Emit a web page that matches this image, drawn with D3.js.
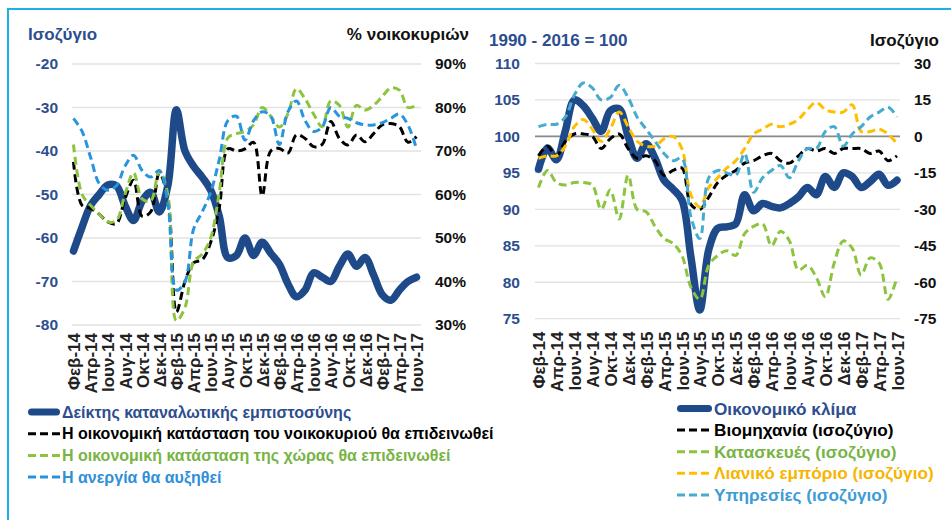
<!DOCTYPE html>
<html>
<head>
<meta charset="utf-8">
<script src="https://cdn.jsdelivr.net/npm/d3@7"></script>
<style>
  body { margin: 0; background: #fff; }
  svg text { font-family: "Liberation Sans", Arial, sans-serif; font-weight: bold; }
</style>
</head>
<body>
<svg id="chart" width="951" height="520"></svg>
<script>
/*** Data ***/
const months = [
  "Φεβ-14","Μαρ-14","Απρ-14","Μαϊ-14","Ιουν-14","Ιουλ-14","Αυγ-14","Σεπ-14","Οκτ-14","Νοε-14","Δεκ-14",
  "Ιαν-15","Φεβ-15","Μαρ-15","Απρ-15","Μαϊ-15","Ιουν-15","Ιουλ-15","Αυγ-15","Σεπ-15","Οκτ-15","Νοε-15","Δεκ-15",
  "Ιαν-16","Φεβ-16","Μαρ-16","Απρ-16","Μαϊ-16","Ιουν-16","Ιουλ-16","Αυγ-16","Σεπ-16","Οκτ-16","Νοε-16","Δεκ-16",
  "Ιαν-17","Φεβ-17","Μαρ-17","Απρ-17","Μαϊ-17","Ιουν-17"
];
// every second month is labelled
const tickMonths = ["Φεβ-14","Απρ-14","Ιουν-14","Αυγ-14","Οκτ-14","Δεκ-14","Φεβ-15","Απρ-15","Ιουν-15",
  "Αυγ-15","Οκτ-15","Δεκ-15","Φεβ-16","Απρ-16","Ιουν-16","Αυγ-16","Οκτ-16","Δεκ-16","Φεβ-17","Απρ-17","Ιουν-17"];

// Left panel: consumer confidence (balance, left axis) and survey answers (% households, right axis)
const consumerConfidence = [-63, -57.5, -52.5, -50, -47.8, -48, -52.5, -56, -51.5, -49.5, -54, -48, -30.5, -40, -43.5,
  -46, -49, -55, -64.5, -64, -60, -64, -61, -63.5, -66, -70.5, -73.5, -72, -68, -69, -70, -66.5, -63.7, -66.5, -64.5,
  -68.5, -73, -74.3, -72, -70, -69];
const householdWorse = [67.5, 57.5, 56.8, 55.5, 53.7, 53.3, 59, 63.3, 55, 56, 65, 59, 33, 40, 44.3, 45, 49, 57, 70.5,
  70, 70.5, 72, 59.7, 70, 70.6, 69.5, 73.7, 72.9, 71, 71.5, 76.8, 72.9, 71.4, 73.7, 72.1, 74, 76, 76.3, 75.6, 72, 73.3];
const countryWorse = [71.5, 60, 57.5, 55.5, 53.7, 54, 60, 65, 59, 58.5, 65.5, 60, 31, 34, 44.5, 46.3, 50, 60.5, 73,
  74, 74.5, 76, 80, 78, 75.5, 78.5, 84.3, 82, 78.5, 75.6, 81.5, 80.5, 75.5, 80.5, 79.4, 80.5, 82.5, 84.5, 84, 80, 80.5];
const unemploymentUp = [77.5, 74.5, 68.5, 62.5, 61, 62, 66.5, 69, 65.5, 64, 65.5, 58, 38, 40, 52, 56, 60.5, 68, 77,
  78, 72.5, 77, 79, 78, 71.5, 79, 81.5, 77, 74.5, 75.5, 80, 78, 77.5, 76.5, 76, 76, 76.5, 77.5, 78.5, 76, 70.5];

// Right panel: economic sentiment (index, left axis) and sector balances (right axis)
const economicSentiment = [95.5, 98.4, 96.8, 100.8, 105, 104.2, 102.5, 100.7, 103.5, 103.8, 100, 97, 99, 97, 94,
  92.8, 91.3, 83.5, 76.2, 84.5, 87.4, 87.6, 88, 92, 89.8, 90.8, 90.4, 90.2, 90.8, 91.7, 93, 92, 94.5, 93, 95, 94.5,
  93, 93.8, 94.8, 93.3, 94];
const industry = [-8, -4, -8, -2, 1, 1, 0, -5, -1, 1, -5, -9, -8, -10, -16, -14, -13, -28, -30, -25, -19, -16, -14,
  -11, -10, -8, -7, -10, -11, -8, -5, -6, -5, -7, -5, -5, -5, -7, -6, -10, -8];
const construction = [-21, -14, -19, -20, -19, -19, -20, -30, -22, -34, -16, -30, -31, -37, -42, -44, -49, -62, -67,
  -53, -49, -47, -49, -40, -37, -36, -45, -39, -43, -55, -53, -58, -66, -52, -43, -46, -57, -50, -52, -67, -58];
const retail = [-9, -8, -8, -4, 4, 7, 3, -2, 3, 10, 4, -2, -4, -4, -1, 0, -5, -24, -29, -21, -17, -13, -10, -5, 1,
  3, 5, 4, 5, 7, 11, 14, 11, 10, 10, 13, 2, 2, 3, 1, -3];
const services = [4, 5, 5, 8, 17, 22, 20, 15, 16, 21, 16, 8, 3, -2, -7, -10, -9, -33, -42, -17, -14, -15, -16, -7,
  -23, -17, -14, -12, -17, -10, -5, -5, 2, 4, -4, 1, 4, 8, 10, 12, 8];

const leftTicksA = [-20, -30, -40, -50, -60, -70, -80];
const rightTicksA = [90, 80, 70, 60, 50, 40, 30];
const leftTicksB = [110, 105, 100, 95, 90, 85, 80, 75];
const rightTicksB = [30, 15, 0, -15, -30, -45, -60, -75];

const legendA = ["Δείκτης καταναλωτικής εμπιστοσύνης", "Η οικονομική κατάσταση του νοικοκυριού θα επιδεινωθεί",
  "Η οικονομική κατάσταση της χώρας θα επιδεινωθεί", "Η ανεργία θα αυξηθεί"];
const legendB = ["Οικονομικό κλίμα", "Βιομηχανία (ισοζύγιο)", "Κατασκευές (ισοζύγιο)",
  "Λιανικό εμπόριο (ισοζύγιο)", "Υπηρεσίες (ισοζύγιο)"];

/*** Styles ***/
const NAVY = "#1f4a8a", NAVY_TXT = "#2d4e8e";
const GREEN = "#8cc43f", BLUE = "#2795dd", ORANGE = "#ffbf00", AQUA = "#45abcf";

const svg = d3.select("#chart");

// blue frame round the figure
svg.append("path")
    .attr("d", "M8,520V9H951")
    .attr("fill", "none")
    .attr("stroke", "#1cb0e6")
    .attr("stroke-width", 2);

/*** Panel drawing ***/
function drawPanel(p) {
  let g = svg.append("g");
  let x = d3.scalePoint().domain(months).range(p.xRange);
  let yL = d3.scaleLinear().domain(p.leftDomain).range([p.yBottom, p.yTop]);
  let yR = d3.scaleLinear().domain(p.rightDomain).range([p.yBottom, p.yTop]);

  // Gridlines
  g.selectAll(".grid")
      .data(p.leftTicks).enter()
      .append("line")
          .attr("x1", p.gridX[0]).attr("x2", p.gridX[1])
          .attr("y1", d => yL(d)).attr("y2", d => yL(d))
          .attr("stroke", "#e2e2e2")
          .attr("stroke-width", 1.3);
  if (p.baseLine !== undefined) {
    g.append("line")
        .attr("x1", p.gridX[0]).attr("x2", p.gridX[1])
        .attr("y1", yL(p.baseLine)).attr("y2", yL(p.baseLine))
        .attr("stroke", "#8a8a8a")
        .attr("stroke-width", 1.6);
  }

  // Axes (plain hyphen for negatives, as in the original)
  let axL = g.append("g")
      .attr("transform", "translate(" + p.leftAxisX + ",0)")
      .call(d3.axisLeft(yL).tickValues(p.leftTicks).tickSize(0).tickPadding(0).tickFormat(d => String(d)));
  axL.select(".domain").remove();
  axL.selectAll("text").attr("fill", NAVY_TXT).style("font-size", "15.5px")
      .attr("font-family", null);

  let axR = g.append("g")
      .attr("transform", "translate(" + p.rightAxisX + ",0)")
      .call(d3.axisRight(yR).tickValues(p.rightTicks).tickSize(0).tickPadding(0).tickFormat(p.rightFormat));
  axR.select(".domain").remove();
  axR.selectAll("text").attr("fill", "#111").style("font-size", "15.5px")
      .attr("font-family", null);

  let axB = g.append("g")
      .attr("transform", "translate(0," + p.labelTop + ")")
      .call(d3.axisBottom(x).tickValues(tickMonths).tickSize(0));
  axB.select(".domain").remove();
  axB.selectAll("text")
      .attr("transform", "rotate(-90)")
      .attr("x", 0).attr("y", 0).attr("dy", "0.36em")
      .attr("font-family", null)
      .style("text-anchor", "end")
      .style("font-size", "17px")
      .attr("fill", "#222");

  // Axis titles
  g.append("text")
      .attr("x", p.titleL[0]).attr("y", p.titleL[1])
      .attr("fill", NAVY_TXT).style("font-size", "17px")
      .text(p.titleLeft);
  g.append("text")
      .attr("x", p.titleR[0]).attr("y", p.titleR[1])
      .attr("fill", "#111").style("font-size", "17px")
      .style("text-anchor", "end")
      .text(p.titleRight);

  // Series: dashed ones on the secondary axis, drawn over the thick one
  let lineL = d3.line().x((d, i) => x(months[i])).y(d => yL(d)).curve(d3.curveCatmullRom.alpha(0.5));
  let lineR = d3.line().x((d, i) => x(months[i])).y(d => yR(d)).curve(d3.curveCatmullRom.alpha(0.5));

  g.append("path")
      .attr("d", lineL(p.main))
      .attr("fill", "none")
      .attr("stroke", NAVY)
      .attr("stroke-width", 7.5)
      .attr("stroke-linecap", "round")
      .attr("stroke-linejoin", "round");
  p.dashed.forEach(s => {
    g.append("path")
        .attr("d", lineR(s.values))
        .attr("fill", "none")
        .attr("stroke", s.color)
        .attr("stroke-width", 3)
        .attr("stroke-dasharray", "8,4.5");
  });

  // Legend
  let leg = g.append("g");
  p.legend.forEach((name, i) => {
    let y = p.legendY + i * p.legendStep;
    let item = i == 0 ? {color: NAVY, text: NAVY_TXT} : p.dashed[i - 1];
    let sw = leg.append("line")
        .attr("x1", p.legendX[0]).attr("x2", p.legendX[1])
        .attr("y1", y).attr("y2", y)
        .attr("stroke", item.color);
    if (i == 0) {
      sw.attr("stroke-width", 7).attr("stroke-linecap", "round")
        .attr("x1", p.legendX[0] + 3.5).attr("x2", p.legendX[1] - 3.5);
    } else {
      sw.attr("stroke-width", 3).attr("stroke-dasharray", "8,4");
    }
    leg.append("text")
        .attr("x", p.legendX[1] + 2).attr("y", y).attr("dy", "0.36em")
        .attr("fill", item.text)
        .style("font-size", p.legendFont)
        .text(name);
  });
}

drawPanel({
  xRange: [73.5, 416.5], gridX: [72, 421],
  yTop: 64, yBottom: 325, labelTop: 333,
  leftDomain: [-80, -20], rightDomain: [30, 90],
  leftTicks: leftTicksA, rightTicks: rightTicksA, rightFormat: d => d + "%",
  leftAxisX: 58, rightAxisX: 435,
  titleLeft: "Ισοζύγιο", titleRight: "% νοικοκυριών", titleL: [28, 40], titleR: [469, 40],
  main: consumerConfidence,
  dashed: [
    {values: householdWorse, color: "#000", text: "#000"},
    {values: countryWorse, color: GREEN, text: "#78b444"},
    {values: unemploymentUp, color: BLUE, text: "#2f8fd8"}
  ],
  legend: legendA, legendX: [28, 60], legendY: 412, legendStep: 21.7, legendFont: "16px"
});

drawPanel({
  xRange: [538.5, 897], gridX: [535, 900],
  yTop: 63.5, yBottom: 318.7, labelTop: 331.5,
  leftDomain: [75, 110], rightDomain: [-75, 30], baseLine: 100,
  leftTicks: leftTicksB, rightTicks: rightTicksB, rightFormat: d => String(d),
  leftAxisX: 520, rightAxisX: 914,
  titleLeft: "1990 - 2016 = 100", titleRight: "Ισοζύγιο", titleL: [489, 46], titleR: [939, 46],
  main: economicSentiment,
  dashed: [
    {values: industry, color: "#000", text: "#000"},
    {values: construction, color: GREEN, text: "#78b444"},
    {values: retail, color: ORANGE, text: "#f7b500"},
    {values: services, color: AQUA, text: "#3d9bd5"}
  ],
  legend: legendB, legendX: [677, 712], legendY: 408.5, legendStep: 21.6, legendFont: "17.2px"
});
</script>
</body>
</html>
